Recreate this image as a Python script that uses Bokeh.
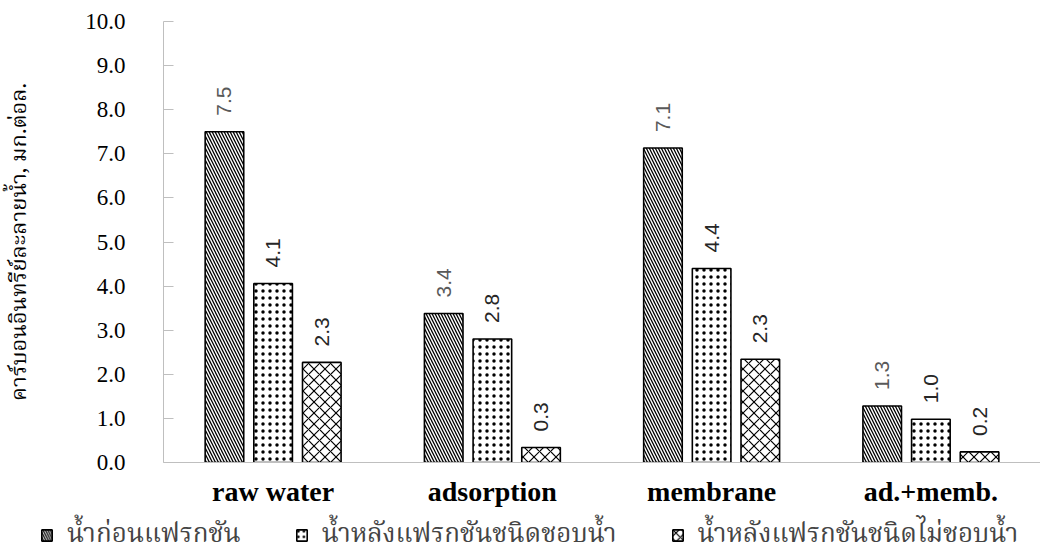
import math
from bokeh.plotting import figure
from bokeh.models import (ColumnDataSource, FactorRange, Range1d, FixedTicker,
                          Legend, LegendItem, NumeralTickFormatter)
from bokeh.transform import dodge
from bokeh.core.properties import value
from bokeh.embed import file_html
from bokeh.resources import INLINE

# ---- data ----
categories = ["raw water", "adsorption", "membrane", "ad.+memb."]
series_names = ["น้ำก่อนแฟรกชัน", "น้ำหลังแฟรกชันชนิดชอบน้ำ", "น้ำหลังแฟรกชันชนิดไม่ชอบน้ำ"]
before_fraction = [7.50, 3.38, 7.13, 1.28]
hydrophilic = [4.06, 2.80, 4.40, 0.98]
hydrophobic = [2.27, 0.34, 2.34, 0.24]
y_ticks = [0, 1, 2, 3, 4, 5, 6, 7, 8, 9, 10]
y_label = "คาร์บอนอินทรีย์ละลายน้ำ, มก.ต่อล."

series_values = [before_fraction, hydrophilic, hydrophobic]
offsets = [-0.222, 0.0, 0.222]
hatches = ["\\", ".", "x"]
hatch_scales = [6, 7, 11]
hatch_weights = [1.3, 0.5, 1.2]
label_colors = ["#595959", "#262626", "#262626"]

THAI_FONT = "Noto Serif Thai, Noto Sans Thai, Liberation Serif"

p = figure(x_range=FactorRange(*categories), y_range=Range1d(0, 10),
           width=1040, height=509, output_backend="svg", toolbar_location=None,
           min_border_left=160, min_border_right=0, min_border_top=21,
           min_border_bottom=47)

bar_style = dict(fill_color="white", line_color="black", line_width=1.6,
                 hatch_color="black")

for i, vals in enumerate(series_values):
    src = ColumnDataSource(dict(cat=categories, top=vals,
                                lbl=[f"{v:.1f}" for v in vals]))
    p.vbar(x=dodge("cat", offsets[i], range=p.x_range), top="top", width=0.176,
           source=src, hatch_pattern=hatches[i], hatch_scale=hatch_scales[i],
           hatch_weight=hatch_weights[i], **bar_style)
    p.text(x=dodge("cat", offsets[i], range=p.x_range), y="top", text="lbl",
           source=src, angle=math.pi / 2, text_align="left", text_baseline="middle",
           y_offset=-16, text_font=value("Liberation Sans"), text_font_size="21px",
           text_color=label_colors[i])

# axes
p.yaxis.ticker = FixedTicker(ticks=y_ticks)
p.yaxis.formatter = NumeralTickFormatter(format="0.0")
p.yaxis.major_tick_in = 10
p.yaxis.major_tick_out = 0
p.yaxis.minor_tick_line_color = None
p.yaxis.axis_line_color = "#bfbfbf"
p.yaxis.major_tick_line_color = "#bfbfbf"
p.yaxis.major_label_standoff = 38
p.yaxis.major_label_text_font = "Liberation Serif"
p.yaxis.major_label_text_font_size = "23px"
p.yaxis.major_label_text_color = "black"
p.yaxis.axis_label = y_label
p.yaxis.axis_label_text_font = THAI_FONT
p.yaxis.axis_label_text_font_size = "22px"
p.yaxis.axis_label_text_font_style = "normal"
p.yaxis.axis_label_text_color = "black"
p.yaxis.axis_label_standoff = 44

p.xaxis.major_tick_line_color = None
p.xaxis.axis_line_color = "#bfbfbf"
p.xaxis.major_label_text_font = "Liberation Serif"
p.xaxis.major_label_text_font_style = "bold"
p.xaxis.major_label_text_font_size = "28px"
p.xaxis.major_label_text_color = "black"
p.xaxis.major_label_standoff = 7

p.xgrid.visible = False
p.ygrid.visible = False
p.outline_line_color = None

# ---- legend strip (separate root so it can extend left of the main plot frame) ----
lg = figure(width=1040, height=47, x_range=Range1d(0, 1), y_range=Range1d(0, 1),
            output_backend="svg", toolbar_location=None, x_axis_type=None,
            y_axis_type=None, min_border=0, min_border_left=0, min_border_right=0,
            min_border_top=0, min_border_bottom=0)
lg.outline_line_color = None
lg.xgrid.visible = False
lg.ygrid.visible = False

items = []
for i, name in enumerate(series_names):
    # swatch-only renderer (hidden; only its styling is used by the legend)
    r = lg.vbar(x=[0.5], top=[1], width=0.1, hatch_pattern=hatches[i],
                hatch_scale=hatch_scales[i] * 0.8, hatch_weight=hatch_weights[i],
                visible=False, **bar_style)
    items.append(LegendItem(label=name, renderers=[r]))

legend = Legend(items=items, orientation="horizontal", location=(40, 0),
                margin=0, padding=0, spacing=54, glyph_width=13, glyph_height=14,
                label_standoff=14, label_height=22,
                label_text_font=THAI_FONT, label_text_font_size="26px",
                border_line_color=None, background_fill_alpha=0,
                inactive_fill_alpha=0)
lg.add_layout(legend, "center")

open("out.html", "w").write(file_html([p, lg], INLINE))
